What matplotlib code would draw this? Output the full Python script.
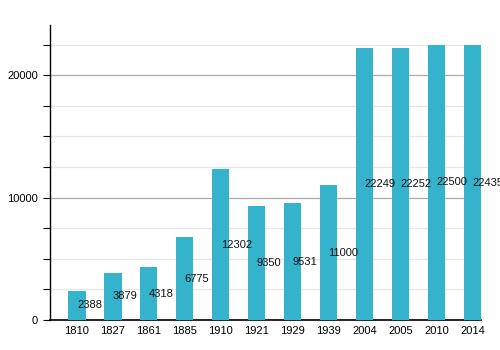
import numpy as np
import matplotlib.pyplot as plt
from matplotlib.ticker import MultipleLocator

# datos
anios = ['1810', '1827', '1861', '1885', '1910', '1921', '1929', '1939',
         '2004', '2005', '2010', '2014']
poblacion = [2388, 3879, 4318, 6775, 12302, 9350, 9531, 11000,
             22249, 22252, 22500, 22435]

plt.rcParams['font.family'] = ['Liberation Sans', 'DejaVu Sans']

fig = plt.figure(figsize=(5, 3.5), dpi=100)
ax = fig.add_axes([0.1, 0.0857, 0.862, 0.843])

x = np.arange(len(anios))
ax.bar(x, poblacion, width=0.48, color='#35b2cc', zorder=3)

# etiquetas a media altura, a la derecha del centro de la barra
for xi, v in zip(x, poblacion):
    ax.text(xi, v / 2, str(v), ha='left', va='center', fontsize=8,
            color='#111111', zorder=4)

ax.set_xlim(-0.75, 11.24)
ax.set_ylim(0, 24100)
ax.set_xticks(x)
ax.set_xticklabels(anios, fontsize=8)
ax.yaxis.set_major_locator(MultipleLocator(10000))
ax.yaxis.set_minor_locator(MultipleLocator(2500))
ax.tick_params(axis='y', which='both', length=5, width=0.8, labelsize=8)
ax.tick_params(axis='x', length=0, labelsize=8, pad=4)

ax.grid(axis='y', which='major', color='#aaaaaa', linewidth=0.9, zorder=1)
ax.grid(axis='y', which='minor', color='#e6e6e6', linewidth=0.9, zorder=1)

for lado in ['top', 'right']:
    ax.spines[lado].set_visible(False)
ax.spines['left'].set_linewidth(1.0)
ax.spines['bottom'].set_linewidth(1.2)

plt.savefig('out.png', dpi=100)
